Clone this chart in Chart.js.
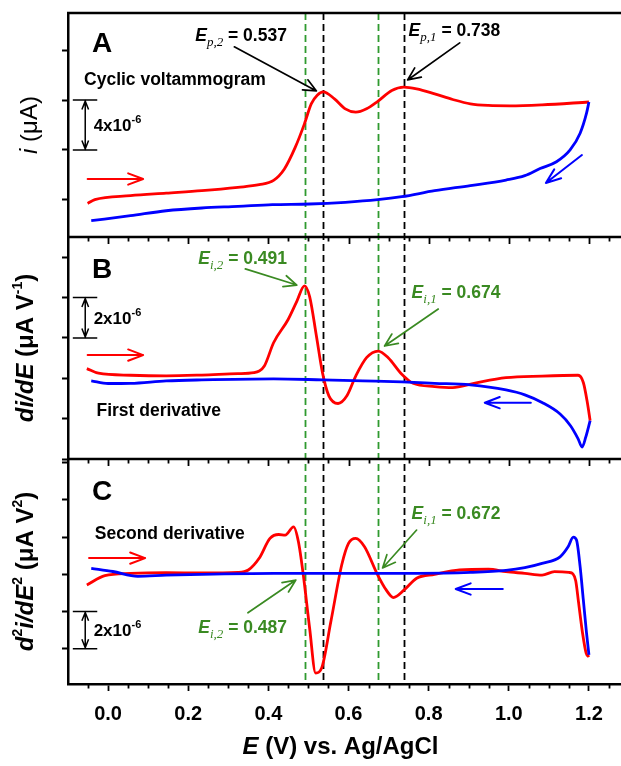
<!DOCTYPE html>
<html>
<head>
<meta charset="utf-8">
<title>Cyclic voltammogram and derivatives</title>
<script src="https://cdn.jsdelivr.net/npm/chart.js@4.4.1/dist/chart.umd.min.js"></script>
<style>
  html, body { margin: 0; padding: 0; background: #fff; }
  #wrap { width: 621px; height: 766px; position: relative; }
  canvas { display: block; }
</style>
</head>
<body>
<div id="wrap"><canvas id="cv" width="621" height="766"></canvas></div>
<script>
// ---------- data (potential E in V vs. Ag/AgCl; responses in units of 1e-6) ----------
const xTickLabels = ['0.0', '0.2', '0.4', '0.6', '0.8', '1.0', '1.2'];

// A: cyclic voltammogram, forward (anodic) scan
const cvFwdE = [-0.051, -0.033, 0.056, 0.145, 0.234, 0.324, 0.377, 0.413, 0.440, 0.467, 0.490, 0.507, 0.522, 0.537,
  0.565, 0.592, 0.618, 0.645, 0.673, 0.708, 0.738, 0.770, 0.815, 0.860, 0.904, 0.949, 1.003, 1.083, 1.200];
const cvFwdI = [-0.30, 0.00, 0.32, 0.52, 0.72, 0.99, 1.20, 1.55, 2.47, 4.20, 6.09, 7.70, 8.40, 8.66,
  8.10, 7.30, 7.03, 7.30, 7.90, 8.77, 9.04, 8.90, 8.50, 8.05, 7.70, 7.57, 7.54, 7.62, 7.85];
// A: reverse scan
const cvRevE = [1.200, 1.194, 1.178, 1.153, 1.119, 1.078, 1.040, 0.993, 0.904, 0.815, 0.733, 0.673, 0.592, 0.503,
  0.410, 0.324, 0.234, 0.145, 0.056, -0.042];
const cvRevI = [7.85, 6.95, 5.34, 4.00, 3.05, 2.50, 1.93, 1.58, 1.13, 0.72, 0.24, 0.00, -0.21, -0.35,
  -0.40, -0.54, -0.67, -0.89, -1.29, -1.69];

// B: first derivative di/dE
const d1FwdE = [-0.053, -0.024, 0.056, 0.145, 0.234, 0.324, 0.364, 0.390, 0.413, 0.449, 0.471, 0.490, 0.503, 0.520,
  0.535, 0.551, 0.574, 0.596, 0.618, 0.645, 0.674, 0.699, 0.733, 0.761, 0.815, 0.860, 0.913, 0.993, 1.083, 1.173,
  1.186, 1.196, 1.203];
const d1FwdV = [0.48, 0.25, 0.15, 0.12, 0.16, 0.23, 0.28, 0.61, 1.76, 2.90, 3.81, 4.58, 4.05, 2.08,
  0.28, -0.87, -1.25, -0.87, 0.11, 1.02, 1.35, 1.02, 0.20, -0.25, -0.41, -0.46, -0.25, 0.03, 0.11, 0.15,
  -0.21, -1.20, -2.10];
const d1RevE = [1.203, 1.192, 1.183, 1.173, 1.154, 1.128, 1.083, 1.040, 0.993, 0.904, 0.815, 0.733, 0.636, 0.535,
  0.413, 0.234, 0.145, 0.056, 0.000, -0.042];
const d1RevV = [-2.10, -2.92, -3.41, -3.00, -2.35, -1.77, -1.20, -0.82, -0.58, -0.33, -0.25, -0.18, -0.13, -0.08,
  -0.03, -0.08, -0.13, -0.25, -0.26, -0.13];

// C: second derivative d2i/dE2
const d2FwdE = [-0.053, -0.008, 0.056, 0.145, 0.234, 0.324, 0.350, 0.377, 0.404, 0.426, 0.442, 0.463, 0.475, 0.487,
  0.503, 0.518, 0.533, 0.556, 0.583, 0.600, 0.618, 0.640, 0.672, 0.694, 0.712, 0.739, 0.770, 0.815, 0.877, 0.949,
  0.993, 1.040, 1.083, 1.114, 1.150, 1.160, 1.167, 1.174, 1.184, 1.193, 1.200];
const d2FwdV = [-0.57, -0.07, 0.05, 0.09, 0.07, 0.10, 0.23, 0.86, 1.93, 2.14, 2.11, 2.55, 1.75, 0.00,
  -2.90, -5.31, -5.04, -2.54, 0.50, 1.66, 1.93, 1.48, 0.00, -0.84, -1.25, -0.84, -0.21, 0.00, 0.23, 0.27,
  0.14, 0.05, -0.04, 0.14, 0.10, 0.02, -0.35, -1.50, -3.16, -4.24, -4.45];
const d2RevE = [1.200, 1.194, 1.186, 1.178, 1.169, 1.161, 1.148, 1.128, 1.083, 1.040, 0.993, 0.904, 0.770, 0.592,
  0.413, 0.234, 0.145, 0.074, 0.012, -0.042];
const d2RevV = [-4.33, -3.16, -1.38, 0.41, 1.84, 2.00, 1.48, 0.94, 0.59, 0.36, 0.21, 0.10, 0.05, 0.05,
  0.05, 0.00, -0.05, -0.11, 0.15, 0.32];

// characteristic potentials (V)
const peakE = [0.537, 0.738];        // Ep,2 , Ep,1
const inflFirstE = [0.491, 0.674];   // Ei,2 , Ei,1 from di/dE maxima
const inflSecondE = [0.487, 0.672];  // Ei,2 , Ei,1 from d2i/dE2 zero crossings
// scale bar spans (units of 1e-6) for panels A, B, C
const barSpan = [4, 2, 2];

// ---------- styling ----------
const FONT = '"Liberation Sans", Arial, Helvetica, sans-serif';
const SERIF = '"Liberation Serif", "Times New Roman", serif';
const RED = '#ff0000';
const BLUE = '#0000ff';
const GREEN_TXT = '#3a8a22';
const GREEN_LINE = '#2f9a2f';
const AXIS_W = 2.5;

const pts = (xs, ys) => xs.map((x, i) => ({ x, y: ys[i] }));

function line(data, color, axis) {
  return {
    data, yAxisID: axis, borderColor: color, borderWidth: 2.8,
    pointRadius: 0, fill: false, cubicInterpolationMode: 'monotone'
  };
}

// ---------- drawing helpers ----------
function runs(ctx, parts, x, base, align) {
  let w = 0;
  for (const p of parts) { ctx.font = p.f; p.w = ctx.measureText(p.t).width; w += p.w; }
  let cx = align === 'center' ? x - w / 2 : x;
  for (const p of parts) { ctx.font = p.f; ctx.fillText(p.t, cx, base + (p.dy || 0)); cx += p.w; }
}

function head(ctx, x1, y1, x2, y2, len, ang) {
  const a = Math.atan2(y2 - y1, x2 - x1);
  ctx.moveTo(x2 - len * Math.cos(a - ang), y2 - len * Math.sin(a - ang));
  ctx.lineTo(x2, y2);
  ctx.lineTo(x2 - len * Math.cos(a + ang), y2 - len * Math.sin(a + ang));
}

function arrow(ctx, x1, y1, x2, y2, color, width, len, ang) {
  ctx.save();
  ctx.strokeStyle = color; ctx.lineWidth = width; ctx.lineCap = 'round'; ctx.lineJoin = 'round';
  ctx.beginPath();
  ctx.moveTo(x1, y1); ctx.lineTo(x2, y2);
  head(ctx, x1, y1, x2, y2, len, ang);
  ctx.stroke();
  ctx.restore();
}

function eLabel(ctx, sub, value, x, mid, color) {
  ctx.save();
  ctx.fillStyle = color;
  runs(ctx, [
    { t: 'E', f: `italic bold 17.5px ${FONT}` },
    { t: sub, f: `italic 13px ${SERIF}`, dy: 5 },
    { t: ' = ' + value.toFixed(3), f: `bold 17.5px ${FONT}` }
  ], x, mid + 6.3, 'left');
  ctx.restore();
}

function scaleBar(ctx, X, yTop, yBot, span) {
  const xm = X(-0.057), xl = X(-0.088), xr = X(-0.027);
  ctx.save();
  ctx.strokeStyle = '#000'; ctx.lineWidth = 1.5;
  ctx.beginPath();
  ctx.moveTo(xl, yTop); ctx.lineTo(xr, yTop);
  ctx.moveTo(xl, yBot); ctx.lineTo(xr, yBot);
  ctx.moveTo(xm, yTop + 1); ctx.lineTo(xm, yBot - 1);
  head(ctx, xm, yBot, xm, yTop + 1, 9, 0.38);
  head(ctx, xm, yTop, xm, yBot - 1, 9, 0.38);
  ctx.stroke();
  ctx.fillStyle = '#000';
  runs(ctx, [
    { t: span + 'x10', f: `bold 17px ${FONT}` },
    { t: '-6', f: `bold 11px ${FONT}`, dy: -8 }
  ], X(-0.036), (yTop + yBot) / 2 + 6, 'left');
  ctx.restore();
}

function vTitle(ctx, parts, x, yMid, cap) {
  ctx.save();
  ctx.translate(x, yMid);
  ctx.rotate(-Math.PI / 2);
  ctx.fillStyle = '#000';
  runs(ctx, parts, 0, cap / 2, 'center');
  ctx.restore();
}

// ---------- plugin: guide lines, panel frames, labels ----------
const decorations = {
  id: 'decorations',
  beforeDatasetsDraw(chart) {
    const { ctx, chartArea } = chart;
    const xs = chart.scales.x;
    const guides = [[inflFirstE[0], GREEN_LINE], [peakE[0], '#000'], [inflFirstE[1], GREEN_LINE], [peakE[1], '#000']];
    ctx.save();
    ctx.lineWidth = 1.8;
    ctx.setLineDash([7, 4]);
    for (const [v, c] of guides) {
      const px = Math.round(xs.getPixelForValue(v)) + 0.5;
      ctx.strokeStyle = c;
      ctx.beginPath(); ctx.moveTo(px, chartArea.top); ctx.lineTo(px, chartArea.bottom); ctx.stroke();
    }
    ctx.restore();
  },
  afterDatasetsDraw(chart) {
    const { ctx, chartArea } = chart;
    const xs = chart.scales.x;
    const X = v => xs.getPixelForValue(v);
    const YA = v => chart.scales.yA.getPixelForValue(v);
    const YB = v => chart.scales.yB.getPixelForValue(v);
    const YC = v => chart.scales.yC.getPixelForValue(v);
    const A = chart.scales.yA, B = chart.scales.yB, C = chart.scales.yC;

    // frame: top edge and panel separators
    ctx.save();
    ctx.strokeStyle = '#000'; ctx.lineWidth = AXIS_W;
    ctx.beginPath();
    for (const yy of [A.top, A.bottom, B.bottom]) {
      ctx.moveTo(chartArea.left - 1, yy); ctx.lineTo(chartArea.right, yy);
    }
    ctx.stroke();

    // x tick marks: every 0.05 V, longer at the labelled values
    const majors = xTickLabels.map(Number);
    ctx.lineWidth = 1.8;
    ctx.beginPath();
    for (let k = -1; k <= 25; k++) {
      const v = k * 0.05;
      const isMajor = majors.some(m => Math.abs(m - v) < 1e-6);
      const px = Math.round(X(v)) + 0.5;
      for (const yy of [A.bottom, B.bottom]) {
        ctx.moveTo(px, yy); ctx.lineTo(px, yy + (isMajor ? 7 : 4.5));
      }
      if (!isMajor) { ctx.moveTo(px, C.bottom); ctx.lineTo(px, C.bottom + 4.5); }
    }
    ctx.stroke();
    ctx.restore();

    ctx.save();
    ctx.textBaseline = 'alphabetic';
    ctx.fillStyle = '#000';

    // panel letters
    ctx.font = `bold 28px ${FONT}`;
    ctx.fillText('A', X(-0.04), YA(12.68) + 10);
    ctx.fillText('B', X(-0.04), YB(5.46) + 10);
    ctx.fillText('C', X(-0.04), YC(4.52) + 10);

    // panel captions
    ctx.font = `bold 17.5px ${FONT}`;
    ctx.fillText('Cyclic voltammogram', X(-0.06), YA(9.7) + 6.3);
    ctx.fillText('First derivative', X(-0.029), YB(-1.57) + 6.3);
    ctx.fillText('Second derivative', X(-0.033), YC(2.21) + 6.3);

    // peak potentials (A)
    eLabel(ctx, 'p,2', peakE[0], X(0.2175), YA(13.24), '#000');
    arrow(ctx, X(0.315), YA(12.28), X(0.52), YA(8.74), '#000', 1.7, 14, 0.42);
    eLabel(ctx, 'p,1', peakE[1], X(0.75), YA(13.64), '#000');
    arrow(ctx, X(0.8775), YA(12.6), X(0.7475), YA(9.62), '#000', 1.7, 14, 0.42);

    // inflection potentials (B)
    eLabel(ctx, 'i,2', inflFirstE[0], X(0.225), YB(5.96), GREEN_TXT);
    arrow(ctx, X(0.3425), YB(5.42), X(0.471), YB(4.62), GREEN_TXT, 1.7, 14, 0.42);
    eLabel(ctx, 'i,1', inflFirstE[1], X(0.7575), YB(4.28), GREEN_TXT);
    arrow(ctx, X(0.824), YB(3.43), X(0.69), YB(1.6), GREEN_TXT, 1.7, 14, 0.42);

    // inflection potentials (C)
    eLabel(ctx, 'i,1', inflSecondE[1], X(0.7575), YC(3.29), GREEN_TXT);
    arrow(ctx, X(0.77), YC(2.38), X(0.685), YC(0.34), GREEN_TXT, 1.7, 14, 0.42);
    eLabel(ctx, 'i,2', inflSecondE[0], X(0.225), YC(-2.83), GREEN_TXT);
    arrow(ctx, X(0.349), YC(-2.07), X(0.4685), YC(-0.31), GREEN_TXT, 1.7, 14, 0.42);

    // scale bars
    scaleBar(ctx, X, YA(8), YA(8 - barSpan[0]), barSpan[0]);
    scaleBar(ctx, X, YB(4), YB(4 - barSpan[1]), barSpan[1]);
    scaleBar(ctx, X, YC(-2), YC(-2 - barSpan[2]), barSpan[2]);

    // scan direction arrows
    arrow(ctx, X(-0.051), YA(1.66), X(0.0875), YA(1.66), RED, 2, 16, 0.36);
    arrow(ctx, X(1.1825), YA(3.59), X(1.0925), YA(1.34), BLUE, 2, 16, 0.36);
    arrow(ctx, X(-0.051), YB(1.15), X(0.0875), YB(1.15), RED, 2, 16, 0.36);
    arrow(ctx, X(1.055), YB(-1.21), X(0.94), YB(-1.21), BLUE, 2, 16, 0.36);
    arrow(ctx, X(-0.0475), YC(0.87), X(0.0925), YC(0.87), RED, 2, 16, 0.36);
    arrow(ctx, X(0.985), YC(-0.79), X(0.8675), YC(-0.79), BLUE, 2, 16, 0.36);

    // axis titles
    vTitle(ctx, [
      { t: 'i', f: `italic 24px ${FONT}` },
      { t: ' (\u03bcA)', f: `24px ${FONT}` }
    ], 28, (A.top + A.bottom) / 2, 17);
    vTitle(ctx, [
      { t: 'di/dE', f: `italic bold 24px ${FONT}` },
      { t: ' (\u03bcA V', f: `bold 24px ${FONT}` },
      { t: '-1', f: `bold 14px ${FONT}`, dy: -11 },
      { t: ')', f: `bold 24px ${FONT}` }
    ], 24, (B.top + B.bottom) / 2, 17);
    vTitle(ctx, [
      { t: 'd', f: `italic bold 24px ${FONT}` },
      { t: '2', f: `bold 14px ${FONT}`, dy: -11 },
      { t: 'i/dE', f: `italic bold 24px ${FONT}` },
      { t: '2', f: `bold 14px ${FONT}`, dy: -11 },
      { t: ' (\u03bcA V', f: `bold 24px ${FONT}` },
      { t: '2', f: `bold 14px ${FONT}`, dy: -11 },
      { t: ')', f: `bold 24px ${FONT}` }
    ], 24, (C.top + C.bottom) / 2, 17);

    ctx.fillStyle = '#000';
    runs(ctx, [
      { t: 'E', f: `italic bold 24px ${FONT}` },
      { t: ' (V) vs. Ag/AgCl', f: `bold 24px ${FONT}` }
    ], (chartArea.left + chartArea.right) / 2 - 4, 754, 'center');
    ctx.restore();
  }
};

// ---------- y axes (stacked panels) ----------
function panelAxis(min, max, step, stackWeight, weight) {
  return {
    type: 'linear', position: 'left', stack: 'panels', stackWeight, weight,
    min, max,
    border: { display: true, color: '#000', width: AXIS_W },
    grid: { display: true, drawOnChartArea: false, drawTicks: true, tickLength: 6, tickWidth: 2, tickColor: '#000' },
    ticks: { display: false, stepSize: step, includeBounds: false },
    afterFit: s => { s.width = 68; }
  };
}

const chart = new Chart(document.getElementById('cv'), {
  type: 'line',
  data: {
    datasets: [
      line(pts(cvRevE, cvRevI), BLUE, 'yA'),
      line(pts(cvFwdE, cvFwdI), RED, 'yA'),
      line(pts(d1RevE, d1RevV), BLUE, 'yB'),
      line(pts(d1FwdE, d1FwdV), RED, 'yB'),
      line(pts(d2RevE, d2RevV), BLUE, 'yC'),
      line(pts(d2FwdE, d2FwdV), RED, 'yC')
    ]
  },
  options: {
    responsive: false,
    animation: false,
    devicePixelRatio: 1,
    parsing: true,
    layout: { padding: { top: 13, left: 0, right: 0, bottom: 0 } },
    plugins: { legend: { display: false }, tooltip: { enabled: false }, title: { display: false } },
    scales: {
      x: {
        type: 'linear', position: 'bottom', min: -0.1, max: 1.28,
        border: { display: true, color: '#000', width: AXIS_W },
        grid: { display: true, drawOnChartArea: false, drawTicks: true, tickLength: 7, tickWidth: 1.8, tickColor: '#000' },
        ticks: {
          color: '#000', padding: 11, autoSkip: false, maxRotation: 0, includeBounds: false,
          font: { family: FONT, size: 20, weight: 'bold' },
          callback: v => xTickLabels.find(l => Math.abs(Number(l) - v) < 1e-6) || ''
        },
        afterBuildTicks: s => { s.ticks = xTickLabels.map(l => ({ value: Number(l) })); },
        afterFit: s => { s.height = 82; }
      },
      yC: panelAxis(-5.9, 6.2, 2, 225, 1),
      yB: panelAxis(-4, 7, 2, 222, 2),
      yA: panelAxis(-3, 15, 4, 224, 3)
    }
  },
  plugins: [decorations]
});
</script>
</body>
</html>
